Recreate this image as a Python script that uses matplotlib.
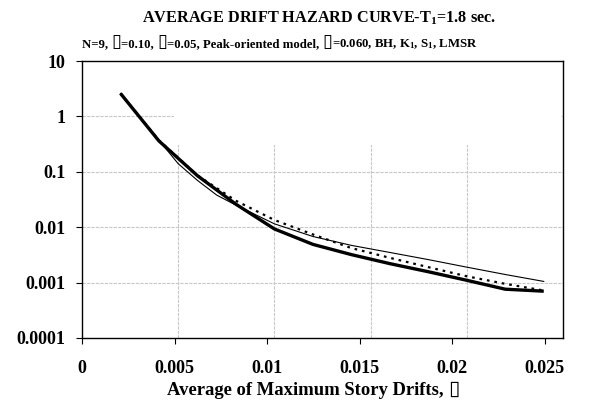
import matplotlib
matplotlib.use("Agg")
import matplotlib.pyplot as plt
from matplotlib.patches import Rectangle
from matplotlib.offsetbox import TextArea, HPacker, AnchoredOffsetbox

# ---- data ----
x_thick = [0.002, 0.004, 0.006, 0.008, 0.010, 0.012, 0.014, 0.016, 0.018, 0.020, 0.022, 0.024]
y_thick = [2.6, 0.36, 0.085, 0.026, 0.0093, 0.0049, 0.0032, 0.0022, 0.00157, 0.0011, 0.00076, 0.0007]

x_thin = [0.002, 0.004, 0.005, 0.006, 0.007, 0.008, 0.010, 0.012, 0.014, 0.016, 0.018, 0.020, 0.022, 0.024]
y_thin = [2.6, 0.37, 0.14, 0.07, 0.038, 0.025, 0.0115, 0.0068, 0.0047, 0.0035, 0.0026, 0.0019, 0.0014, 0.00105]

x_dot = [0.002, 0.004, 0.006, 0.008, 0.010, 0.012, 0.014, 0.016, 0.018, 0.020, 0.022, 0.024]
y_dot = [2.6, 0.37, 0.086, 0.03, 0.0135, 0.0074, 0.0042, 0.0028, 0.0019, 0.0013, 0.00095, 0.00072]

x_tick_vals = [0, 0.005, 0.01, 0.015, 0.02, 0.025]
x_tick_labels = ["0", "0.005", "0.01", "0.015", "0.02", "0.025"]
y_tick_vals = [10, 1, 0.1, 0.01, 0.001, 0.0001]
y_tick_labels = ["10", "1", "0.1", "0.01", "0.001", "0.0001"]

BOX = "\u25af"
title = "AVERAGE DRIFT HAZARD CURVE-T$_1$=1.8 sec."
subtitle_parts = ["N=9, ", BOX, "=0.10, ", BOX, "=0.05, Peak-oriented model, ", BOX,
                  "=0.060, BH, K$_1$, S$_1$, LMSR"]
xlabel_parts = ["Average of Maximum Story Drifts, ", BOX]

plt.rcParams['font.family'] = ['Liberation Serif', 'DejaVu Sans']
plt.rcParams['font.weight'] = 'bold'
plt.rcParams['mathtext.default'] = 'regular'

fig = plt.figure(figsize=(5.94, 4.0), dpi=100)
ax = fig.add_axes([82/594, 1-338/400, (563-82)/594, (338-61)/400])

ax.set_yscale('log')
ax.set_xlim(0, 0.025)
ax.set_ylim(0.0001, 10)

# gridlines
for gx in x_tick_vals[1:-1]:
    ax.axvline(gx, color='#c8c8c8', lw=0.8, ls=(0, (3, 1)), zorder=0.5)
for gy in y_tick_vals[1:-1]:
    ax.axhline(gy, color='#c8c8c8', lw=0.8, ls=(0, (3, 1)), zorder=0.5)
# blank area (upper right) hiding the gridlines
ax.add_patch(Rectangle((0.0048, 0.3), 0.0249 - 0.0048, 10 - 0.3,
                       facecolor='white', edgecolor='none', zorder=1))

ax.plot(x_thin, y_thin, color='black', lw=0.8, zorder=3)
ax.plot(x_dot, y_dot, color='black', lw=1.6, ls=(0, (1.2, 2.2)), zorder=3)
ax.plot(x_thick, y_thick, color='black', lw=2.4, solid_capstyle='butt', zorder=4)

ax.set_yticks(y_tick_vals, y_tick_labels)
ax.yaxis.set_minor_locator(matplotlib.ticker.NullLocator())
ax.tick_params(axis='y', direction='out', length=4, width=0.8, labelsize=13, pad=8)
ax.set_xticks([])
for sp in ax.spines.values():
    sp.set_linewidth(1.0)

# bottom tick axis (slightly different scale, as in the reference)
k = 0.026 / 0.025
sec = ax.secondary_xaxis('bottom', functions=(lambda v: v * k, lambda v: v / k))
sec.set_xticks(x_tick_vals, x_tick_labels)
sec.xaxis.set_minor_locator(matplotlib.ticker.NullLocator())
sec.tick_params(axis='x', direction='out', length=4, width=0.8, labelsize=13, pad=12)
sec.spines['bottom'].set_visible(False)
for lab in sec.get_xticklabels() + ax.get_yticklabels():
    lab.set_fontweight('bold')

fig.text(319/594, 1-18/400, title, ha='center', va='center', fontsize=11.7, fontweight='bold')


def packed(parts, size, boxsize):
    children = []
    for p in parts:
        if p == BOX:
            tp = dict(fontsize=boxsize, family=['DejaVu Sans'], fontweight='normal')
        else:
            tp = dict(fontsize=size, fontweight='bold')
        children.append(TextArea(p, textprops=tp))
    return HPacker(children=children, align='baseline', pad=0, sep=0)


sub = AnchoredOffsetbox(loc='center left', child=packed(subtitle_parts, 9.2, 13),
                        bbox_to_anchor=(82/594, 1-42/400), bbox_transform=fig.transFigure,
                        frameon=False, pad=0, borderpad=0)
fig.add_artist(sub)
xl = AnchoredOffsetbox(loc='center', child=packed(xlabel_parts, 13.4, 15),
                       bbox_to_anchor=(313/594, 1-389/400), bbox_transform=fig.transFigure,
                       frameon=False, pad=0, borderpad=0)
fig.add_artist(xl)

fig.savefig('out.png', dpi=100)
